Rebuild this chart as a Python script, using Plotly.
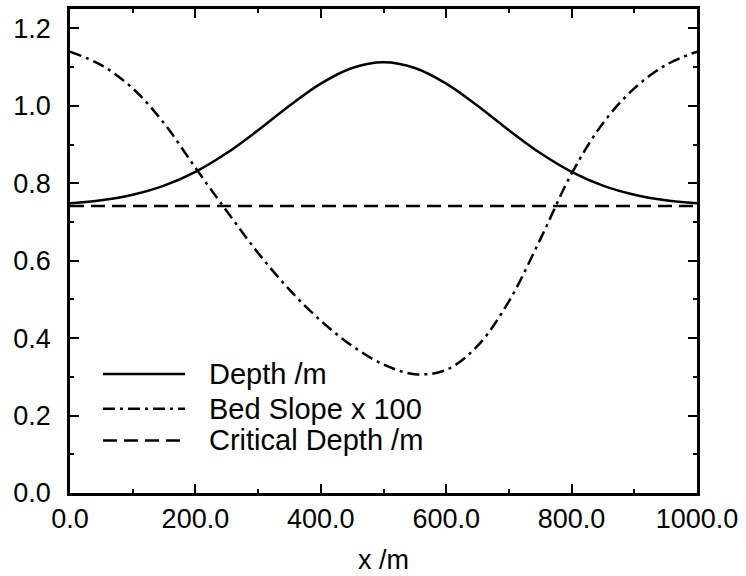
import plotly.graph_objects as go

# ---- data ----
x_pos = [0, 50, 100, 150, 200, 250, 300, 350, 400, 450, 500,
         550, 600, 650, 700, 750, 800, 850, 900, 950, 1000]
depth = [0.7483, 0.7560, 0.7702, 0.7937, 0.8293, 0.8779, 0.9370, 1.0002, 1.0574, 1.0977, 1.1123,
         1.0977, 1.0574, 1.0002, 0.9370, 0.8779, 0.8293, 0.7937, 0.7702, 0.7560, 0.7483]
bed_slope_x100 = [1.140, 1.105, 1.045, 0.955, 0.840, 0.728, 0.620, 0.525, 0.445, 0.380, 0.332,
                  0.307, 0.318, 0.380, 0.495, 0.655, 0.825, 0.955, 1.045, 1.105, 1.140]
crit_x = [0, 1000]
crit_depth = [0.7415, 0.7415]

series_names = ["Depth /m", "Bed Slope x 100", "Critical Depth /m"]
x_ticks = [0, 200, 400, 600, 800, 1000]
y_ticks = [0.0, 0.2, 0.4, 0.6, 0.8, 1.0, 1.2]

FONT = "Helvetica, Liberation Sans, Arial, sans-serif"
LW = 2.5
dashes = [None, "12px,5px,3px,5px", "14px,7px"]

fig = go.Figure()
fig.add_trace(go.Scatter(x=x_pos, y=depth, mode="lines", line=dict(color="black", width=LW, shape="spline"),
                         name=series_names[0], showlegend=False))
fig.add_trace(go.Scatter(x=x_pos, y=bed_slope_x100, mode="lines",
                         line=dict(color="black", width=LW, shape="spline", dash=dashes[1]),
                         name=series_names[1], showlegend=False))
fig.add_trace(go.Scatter(x=crit_x, y=crit_depth, mode="lines",
                         line=dict(color="black", width=LW, dash=dashes[2]),
                         name=series_names[2], showlegend=False))

# custom legend (line samples + labels) in paper coordinates
leg_y = [0.2459, 0.1742, 0.1086]
shapes = []
annotations = []
for i, name in enumerate(series_names):
    ln = dict(color="black", width=LW)
    if dashes[i]:
        ln["dash"] = dashes[i]
    shapes.append(dict(type="line", xref="paper", yref="paper", x0=0.0526, x1=0.1834,
                       y0=leg_y[i], y1=leg_y[i], line=ln))
    annotations.append(dict(xref="paper", yref="paper", x=0.2185, y=leg_y[i], text=name,
                            showarrow=False, xanchor="left", yanchor="middle",
                            font=dict(family=FONT, size=29, color="black")))

axis_common = dict(showline=True, linecolor="black", linewidth=2.6, mirror="allticks",
                   ticks="inside", ticklen=9, tickwidth=2, tickcolor="black",
                   showgrid=False, zeroline=False,
                   tickfont=dict(family=FONT, size=27, color="black"))

fig.update_xaxes(range=[0, 1000], tickvals=x_ticks, tickformat=".1f",
                 minor=dict(ticks="inside", ticklen=4.5, tickwidth=2, tickcolor="black", dtick=100, showgrid=False),
                 title=dict(text="x /m", font=dict(family=FONT, size=27, color="black"), standoff=17),
                 **axis_common)
fig.update_yaxes(range=[0, 1.25], tickvals=y_ticks, tickformat=".1f", ticklabelstandoff=11,
                 minor=dict(ticks="inside", ticklen=4.5, tickwidth=2, tickcolor="black", dtick=0.1, showgrid=False),
                 **axis_common)

fig.update_layout(width=746, height=576, margin=dict(l=70, r=49, t=6, b=82),
                  plot_bgcolor="white", paper_bgcolor="white",
                  shapes=shapes, annotations=annotations,
                  font=dict(family=FONT, color="black"))

fig.write_html("out.html")
